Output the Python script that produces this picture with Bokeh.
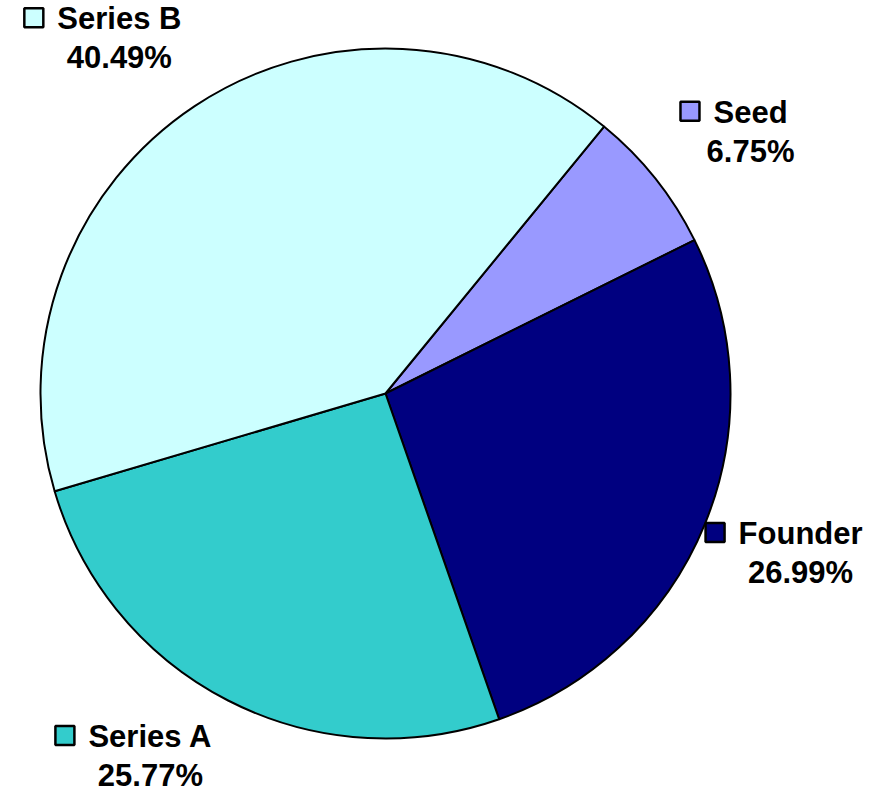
import math
from bokeh.plotting import figure
from bokeh.models import Range1d, ColumnDataSource
from bokeh.core.properties import value
from bokeh.embed import file_html
from bokeh.resources import INLINE

# ---- data ----
labels = ["Seed", "Founder", "Series A", "Series B"]
shares = [6.75, 26.99, 25.77, 40.49]
colors = ["#9999FF", "#000080", "#33CCCC", "#CCFFFF"]

# ---- layout ----
W, H = 876, 794
CX, CY_SCREEN, R = 385, 393, 345
CY = H - CY_SCREEN
START_DEG = 39.3          # clockwise from 12 o'clock
LABEL_R = 445
nudge_x = [17, 3, -32, -20]
nudge_y = [15, -9, -34, 15]   # screen pixels, down positive
FS = 31
MARK = 19
GAP = 14
TEXT_SHIFT = 10           # renderer baseline correction (screen px, up)

# Arial/Liberation Sans Bold advance widths (per 1000 em)
AW = {"S": 667, "e": 556, "r": 389, "i": 278, "s": 556, " ": 278, "B": 722,
      "A": 722, "d": 611, "F": 611, "o": 611, "u": 611, "n": 611}


def text_w(t):
    return sum(AW.get(c, 556) for c in t) * FS / 1000.0


total = sum(shares)
starts, ends, mids = [], [], []
acc = START_DEG
for v in shares:
    d = v / total * 360.0
    starts.append(math.radians(90 - acc))
    ends.append(math.radians(90 - (acc + d)))
    mids.append(acc + d / 2)
    acc += d

src = ColumnDataSource(dict(start=starts, end=ends, color=colors,
                            x=[CX] * 4, y=[CY] * 4))

p = figure(width=W, height=H, x_range=Range1d(0, W), y_range=Range1d(0, H),
           output_backend="svg", toolbar_location=None,
           x_axis_type=None, y_axis_type=None, min_border=0)
p.outline_line_color = None
p.grid.visible = False
p.background_fill_color = "white"
p.border_fill_color = "white"

p.wedge(x="x", y="y", radius=R, start_angle="start", end_angle="end",
        direction="clock", fill_color="color", line_color="black",
        line_width=2, source=src)

name_x, name_y, pct_x, pct_y, pct_t, mk_x, mk_y = [], [], [], [], [], [], []
for i, lab in enumerate(labels):
    m = math.radians(mids[i])
    lx = CX + LABEL_R * math.sin(m) + nudge_x[i]
    ly_s = CY_SCREEN - LABEL_R * math.cos(m) + nudge_y[i]
    name_x.append(lx)
    name_y.append(H - (ly_s - 9 - TEXT_SHIFT))
    pct_x.append(lx)
    pct_y.append(H - (ly_s + 30 - TEXT_SHIFT))
    pct_t.append(f"{shares[i]:.2f}%")
    left = lx - text_w(lab) / 2
    mk_x.append(left - GAP - MARK / 2)
    mk_y.append(H - (ly_s - 9 - 11))

p.text(x=name_x, y=name_y, text=labels, text_font=value("Liberation Sans"),
       text_font_style="bold", text_font_size=f"{FS}px", text_align="center",
       text_baseline="alphabetic", text_color="black")
p.text(x=pct_x, y=pct_y, text=pct_t, text_font=value("Liberation Sans"),
       text_font_style="bold", text_font_size=f"{FS}px", text_align="center",
       text_baseline="alphabetic", text_color="black")
p.scatter(x=mk_x, y=mk_y, marker="square", size=MARK, fill_color=colors,
          line_color="black", line_width=2.5)

open("out.html", "w").write(file_html(p, INLINE))
